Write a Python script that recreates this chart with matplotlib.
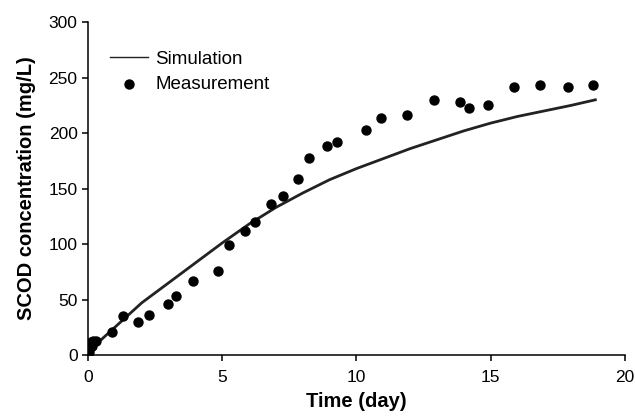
import matplotlib.pyplot as plt

plt.rcParams['font.family'] = ['Liberation Sans', 'DejaVu Sans']

# simulation curve
sim_t = [0, 0.5, 1, 1.5, 2, 2.5, 3, 4, 5, 6, 7, 8, 9, 10, 11, 12, 13, 14, 15, 16, 17, 18, 18.9]
sim_c = [6, 14, 25, 36, 47, 56, 65, 83, 101, 118, 133, 146, 158, 168, 177, 186, 194, 202, 209, 215, 220, 225, 230]

# measured points
meas_t = [0, 0.05, 0.1, 0.15, 0.2, 0.3, 0.05, 0.89, 1.3, 1.86, 2.27, 2.97, 3.27, 3.92, 4.85,
          5.26, 5.85, 6.22, 6.8, 7.25, 7.83, 8.23, 8.9, 9.27, 10.35, 10.9, 11.87, 12.89,
          13.85, 14.2, 14.89, 15.87, 16.83, 17.87, 18.8]
meas_c = [9, 5, 12, 8, 13, 13, 3, 21, 35, 30, 36, 46, 53, 67, 76,
          99, 112, 120, 136, 143, 159, 178, 188, 192, 203, 214, 216, 230,
          228, 223, 225, 242, 243, 242, 243]

fig = plt.figure(figsize=(6.35, 4.18), dpi=100)
ax = fig.add_axes([0.1386, 0.1507, 0.8454, 0.7963])

ax.plot(sim_t, sim_c, color='#222222', linewidth=2.0, label='Simulation')
ax.scatter(meas_t, meas_c, s=42, color='black', zorder=3, label='Measurement')

ax.set_xlim(0, 20)
ax.set_ylim(0, 300)
ax.set_xticks([0, 5, 10, 15, 20])
ax.set_yticks([0, 50, 100, 150, 200, 250, 300])
ax.spines['top'].set_visible(False)
ax.spines['right'].set_visible(False)
ax.spines['left'].set_linewidth(1.1)
ax.spines['bottom'].set_linewidth(1.1)
ax.tick_params(direction='out', length=4.5, width=1.1, labelsize=12.5)
ax.tick_params(axis='x', pad=6)
ax.tick_params(axis='y', pad=3)

ax.set_xlabel('Time (day)', fontsize=14.5, fontweight='bold', labelpad=5)
ax.set_ylabel('SCOD concentration (mg/L)', fontsize=14.5, fontweight='bold', labelpad=9)

leg = ax.legend(loc='upper left', bbox_to_anchor=(0.01, 0.965), frameon=False,
                fontsize=13.5, handlelength=2.0, handletextpad=0.4, labelspacing=0.45)
for line in leg.get_lines():
    line.set_linewidth(1.0)

fig.savefig('out.png', dpi=100)
